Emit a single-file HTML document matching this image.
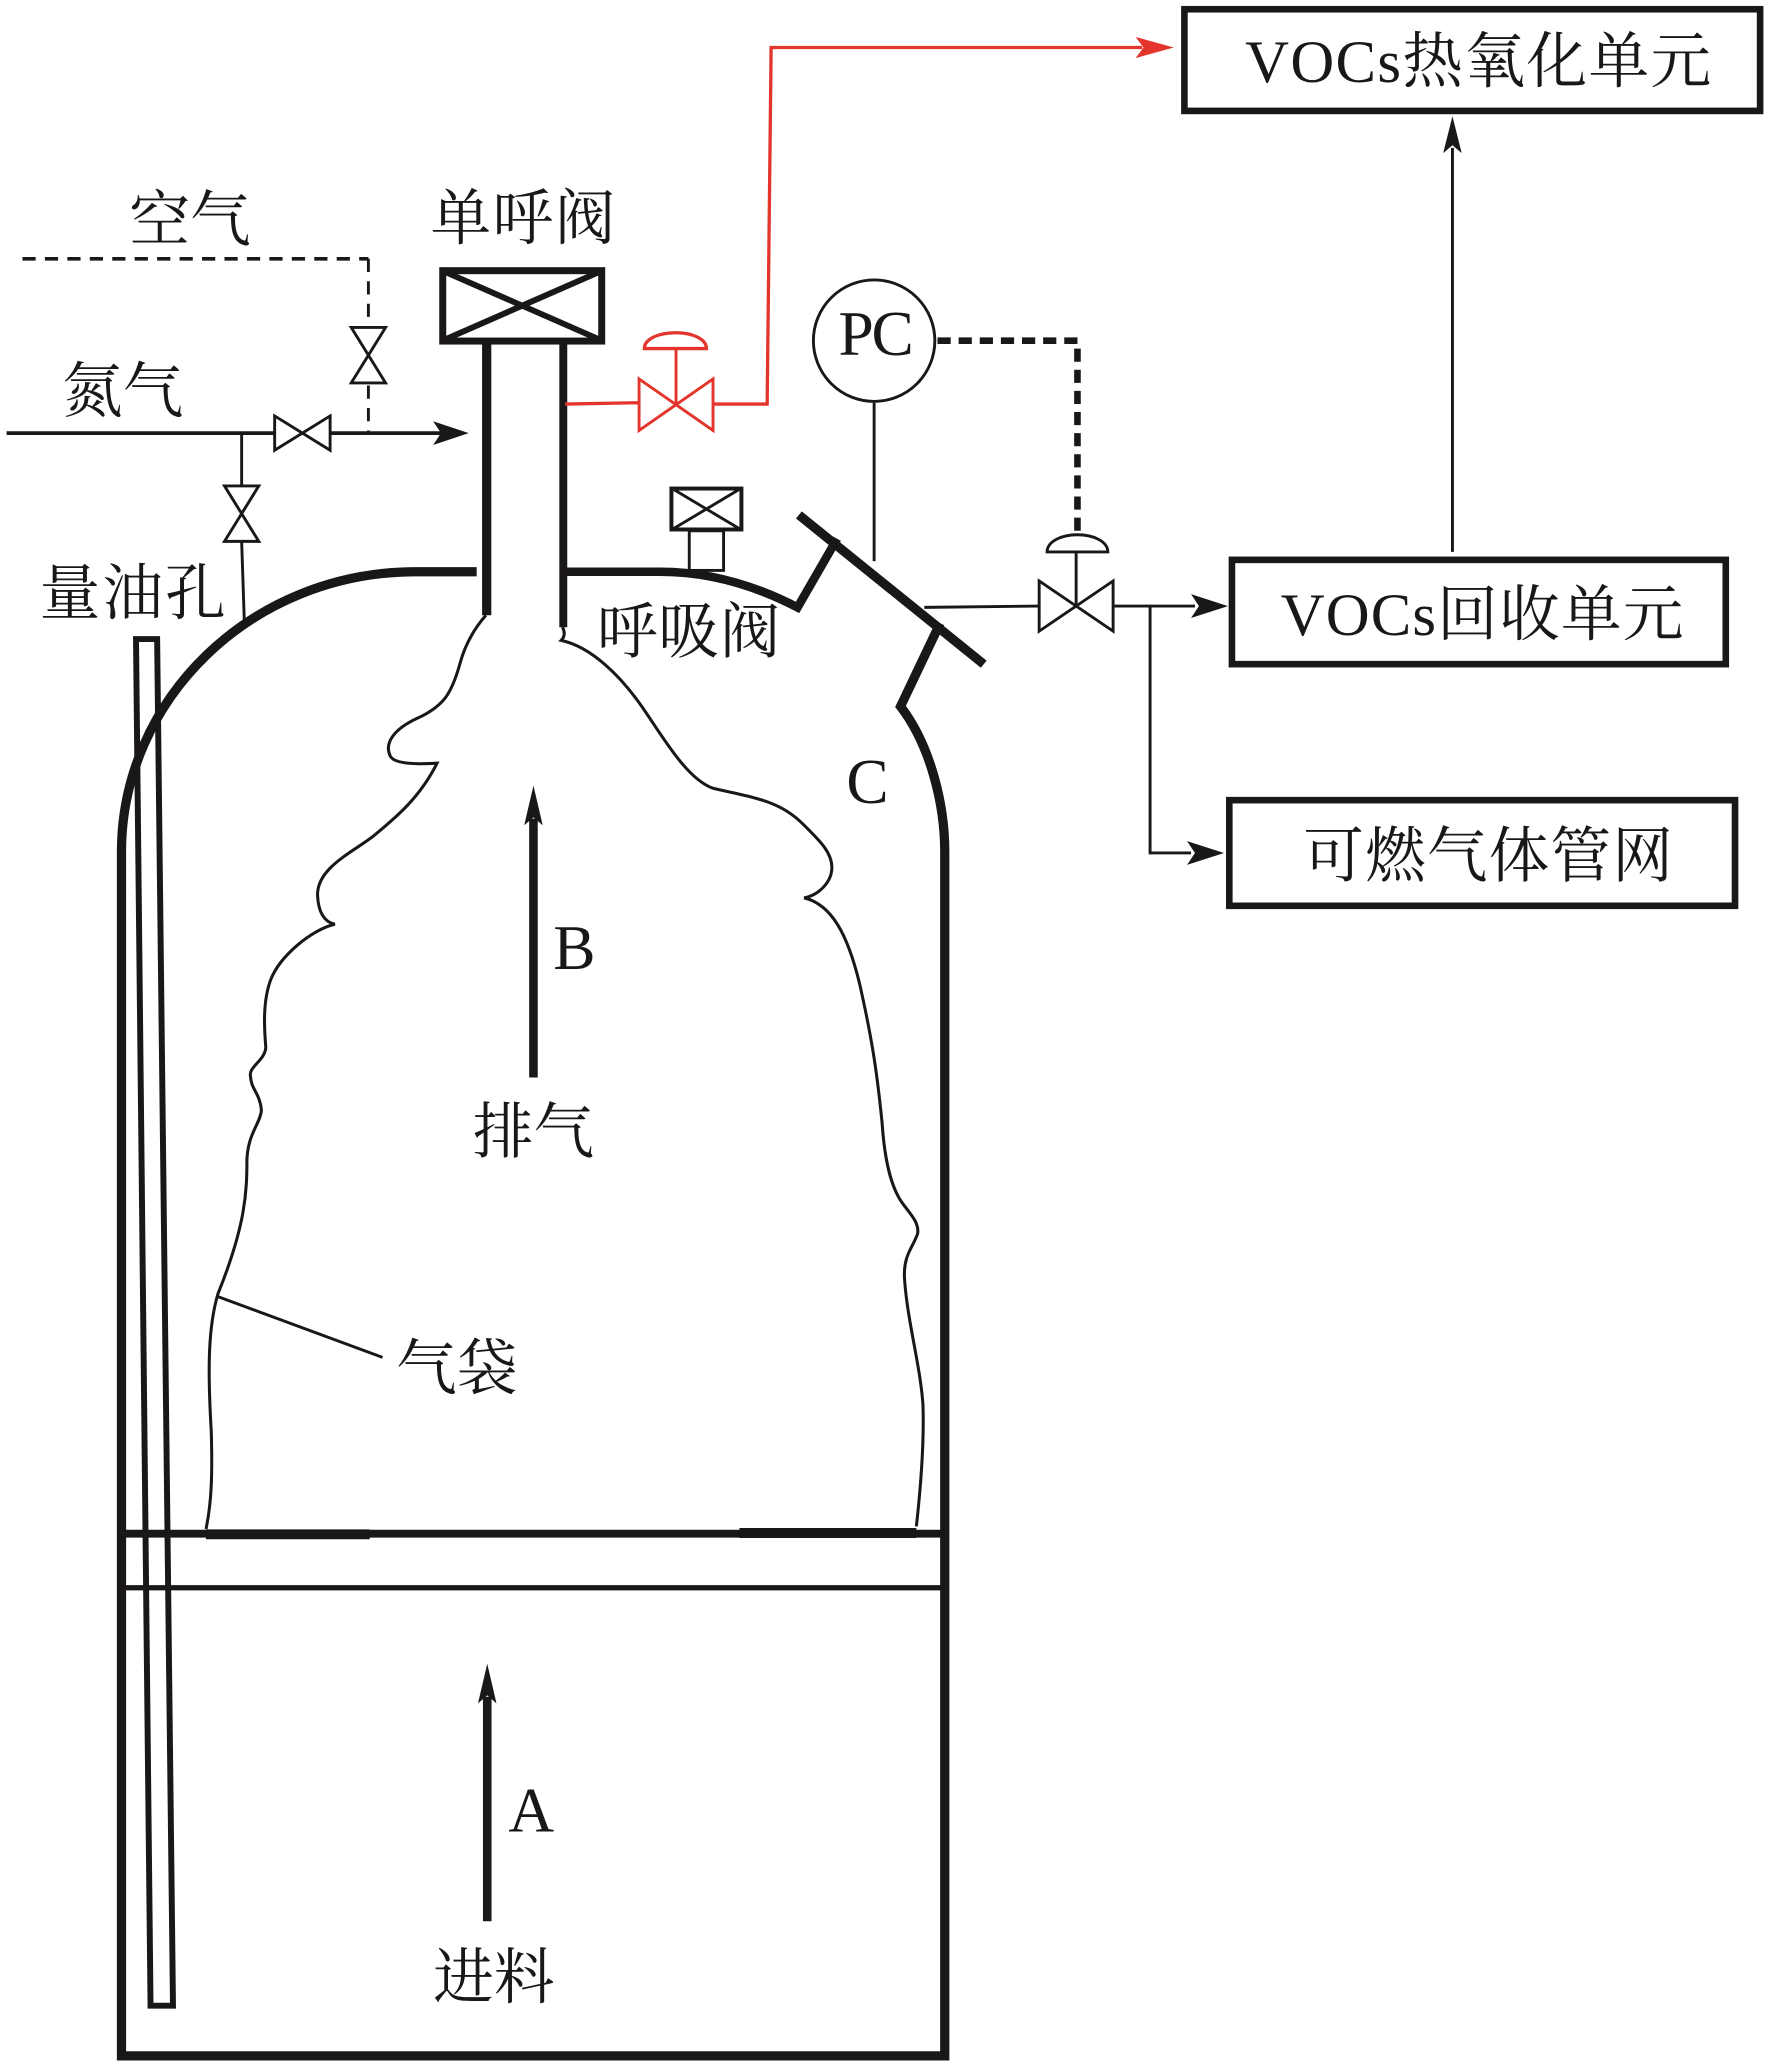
<!DOCTYPE html>
<html><head><meta charset="utf-8"><style>
html,body{margin:0;padding:0;background:#fff}
svg{display:block}
.c{font-family:"Liberation Serif","Noto Serif CJK SC",serif;font-size:46px;fill:#1a1718}
.l{font-family:"Liberation Serif",serif;font-size:48px;fill:#1a1718}
</style></head><body>
<svg xmlns="http://www.w3.org/2000/svg" width="1772" height="2070" viewBox="0 0 1342 1567.700">
<g fill="none" stroke="#1a1718" stroke-linejoin="miter">
<!-- tank -->
<path stroke-width="7" d="M361 433H315C190 433 92 530 92 645V1557H715.500V645C715.500 610 705 565 682 535L712 472"/>
<path stroke-width="6.500" d="M428 433H500C540 433 575 445 604 460L634 408"/>
<path stroke-width="7" d="M605 390L745 503"/>
<path stroke-width="6" d="M92 1161.500H716"/>
<path stroke-width="7.500" d="M156 1162H280M560 1161H694"/>
<path stroke-width="4" d="M92 1202.500H716"/>
<!-- dip tube -->
<path stroke-width="4.500" d="M103 484H119L131 1519H114Z"/>
<!-- vent -->
<rect x="335.300" y="205" width="120.400" height="53.300" stroke-width="5.300"/>
<path stroke-width="4.500" d="M335 205L456 258M456 205L335 258"/>
<path stroke-width="7" d="M368.600 258V466"/>
<path stroke-width="6" d="M426.600 258V475"/>
<!-- breather -->
<rect x="508.500" y="370" width="53" height="31" stroke-width="3"/>
<path stroke-width="2.200" d="M509 370L561 401M561 370L509 401"/>
<rect x="522" y="402" width="26" height="30" stroke-width="2.200"/>
<!-- gas bag -->
<path stroke-width="2.300" d="M368 466Q354 482 348.500 502Q343 522 336 530Q329 538 316 544Q303 550 297.500 557.500Q292 565 295.500 572.500Q299 580 331 578C318 604 300 619 283 633C268 645 240 657 240.500 678C241 690 245 698 253.600 700C236 704 212 724 205 742C199 758 200 778 201.300 793C201 803 188 808 189.700 815C190 825 197 828 198 841C197 851 188 858 187 878C187 903 186 928 165 980C158 1004 157 1034 160 1084C161 1119 160 1139 156 1158"/>
<path stroke-width="2.300" d="M426 475Q429 481 425 485C448 490 470 512 486 535C502 558 520 590 540 597C570 604 590 606 608 624C620 636 630 645 630 657C630 668 620 678 609 680C630 685 642 708 651 745C660 785 664 810 668 850C670 880 675 900 684 912C690 920 696 926 695 934C692 944 684 950 685 968C687 1000 697 1034 699 1064C700 1094 697 1129 694 1156"/>
<path stroke-width="2.200" d="M165 982L289.700 1028"/>
<!-- nitrogen -->
<path stroke-width="2.800" d="M5 328H208M250 328H335"/>
<path stroke-width="2.200" d="M208 315L250 341V315L208 341ZM183 328V368M183 410L185 470"/>
<path stroke-width="2.200" d="M170 368H196L170 410H196Z"/>
<!-- air -->
<path stroke-width="2.800" stroke-dasharray="10 7" d="M17 196H279"/>
<path stroke-width="2.200" stroke-dasharray="10 7" d="M279 196V248M279 292V328"/>
<path stroke-width="2.200" d="M266 248H292L266 290H292Z"/>
<!-- PC -->
<circle cx="662" cy="258" r="46" stroke-width="2.200"/>
<path stroke-width="2.200" d="M662 305V425M700 460L787 459M815 417V459"/>
<path stroke-width="5" stroke-dasharray="10 6" d="M710 258H816V405"/>
<path stroke-width="2.200" d="M793 418H839C839 410 828 405 816 405C804 405 793 410 793 418Z"/>
<path stroke-width="2.200" d="M787 440L843 478V440L787 478Z"/>
<path stroke-width="2.200" d="M843 459H905M871 459V646H902M1100 418V112"/>
<!-- boxes -->
<rect x="897" y="7" width="436" height="77" stroke-width="5"/>
<rect x="933" y="424" width="374" height="79" stroke-width="5"/>
<rect x="931" y="606" width="383" height="80" stroke-width="5"/>
<!-- big arrows -->
<path stroke-width="6.500" d="M404 816V620M369 1455V1285"/>
<!-- red -->
<g stroke="#e4352c">
<path stroke-width="2.500" d="M428 306L484 305M540 306H581L584 36H865"/>
<path stroke-width="2.200" d="M484 287L540 326V287L484 326ZM512 264V306"/>
<path stroke-width="2.500" d="M488 264H535C535 257 525 252 512 252C498 252 488 257 488 264Z"/>
</g>
</g>
<g fill="#1a1718">
<path d="M355 328L328 319L334 328L328 337Z"/>
<path d="M404 595L397 625L404 619L411 625Z"/>
<path d="M369 1260L362 1290L369 1284L376 1290Z"/>
<path d="M930 459L902 450L908 459L902 468Z"/>
<path d="M927 646L899 637L905 646L899 655Z"/>
<path d="M1100 88L1093 116L1100 110L1107 116Z"/>
<path fill="#e4352c" d="M889 36L860 28L866 36L860 44Z"/>
</g>
<text class="c" x="98" y="182" textLength="92">空气</text>
<text class="c" x="326" y="181" textLength="140">单呼阀</text>
<text class="c" x="47" y="312" textLength="92">氮气</text>
<text class="c" x="30" y="465" textLength="141">量油孔</text>
<text class="c" x="452" y="494" textLength="139">呼吸阀</text>
<text class="c" x="358" y="873" textLength="92">排气</text>
<text class="c" x="300" y="1052" textLength="92">气袋</text>
<text class="c" x="328" y="1513" textLength="92">进料</text>
<text class="c" x="943" y="62" textLength="353">VOCs热氧化单元</text>
<text class="c" x="970" y="481" textLength="305">VOCs回收单元</text>
<text class="c" x="987" y="664" textLength="280">可燃气体管网</text>
<text class="l" x="419" y="734">B</text>
<text class="l" x="641" y="608">C</text>
<text class="l" x="385" y="1387">A</text>
<text class="l" x="635" y="269" textLength="57">PC</text>
</svg>
</body></html>
